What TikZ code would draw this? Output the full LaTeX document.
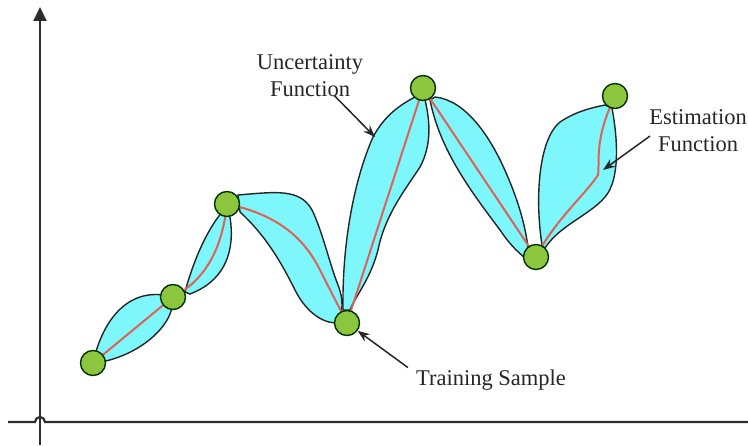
\documentclass[tikz,border=0pt]{standalone}
\usepackage{fontspec}
\setmainfont{Liberation Serif}
\usetikzlibrary{arrows.meta,calc}

\definecolor{bandcyan}{RGB}{125,246,252}
\definecolor{samplegreen}{RGB}{140,198,63}
\definecolor{meanred}{RGB}{222,98,88}
\definecolor{axisgray}{RGB}{45,45,45}

\begin{document}
\begin{tikzpicture}[x=1pt,y=-1pt]
\tikzstyle{band} = [fill=bandcyan,draw=black!85,line width=1.4pt]
\tikzstyle{mean} = [draw=meanred,line width=2pt]
\tikzstyle{sample} = [circle,draw=black!80!green,fill=samplegreen,line width=1.4pt,minimum size=25pt,inner sep=0pt]
\tikzstyle{arrow} = [-{Stealth[length=12pt,width=9pt]},line width=1.5pt,black!85]
\tikzstyle{label} = [font=\rmfamily\fontsize{22.5}{27}\selectfont,text=black!85,align=center,inner sep=2pt]

\useasboundingbox (0,0) rectangle (748,446);

% axes
\draw[axisgray,line width=2.2pt,-{Triangle[width=13pt,length=14pt]}] (40,445) -- (40,7);
\draw[axisgray,line width=2.2pt] (8,422) -- (35,422) arc[start angle=180,end angle=360,radius=5] -- (748,422);

% sample positions
\coordinate (p1) at (93,363);
\coordinate (p2) at (173,297);
\coordinate (p3) at (227,204);
\coordinate (p4) at (347,323);
\coordinate (p5) at (423,88);
\coordinate (p6) at (536,257);
\coordinate (p7) at (615,96);

% uncertainty bands
\draw[band] (p1) .. controls (103,318) and (130,285) .. (p2)
  .. controls (175,330) and (130,360) .. (p1) -- cycle;
\draw[band] (185,292) .. controls (195,255) and (210,225) .. (224,210)
  -- (229,212) .. controls (235,240) and (232,278) .. (190,294) -- cycle;
\draw[band] (238,195) .. controls (275,192) and (300,188) .. (312,210)
  .. controls (322,230) and (330,265) .. (338,285)
  .. controls (344,300) and (342,312) .. (340,318)
  -- (335,323) .. controls (320,322) and (305,310) .. (295,290)
  .. controls (280,260) and (265,235) .. (240,212) -- cycle;
\draw[band] (343,310) .. controls (342,250) and (352,185) .. (373,137)
  .. controls (385,115) and (400,105) .. (415,97)
  -- (425,100) .. controls (430,120) and (432,145) .. (420,167)
  .. controls (405,190) and (385,215) .. (378,250)
  .. controls (370,280) and (356,295) .. (350,310) -- cycle;
\draw[band] (430,100) .. controls (440,150) and (470,190) .. (500,230)
  .. controls (510,245) and (518,252) .. (525,258)
  -- (528,248) .. controls (526,230) and (520,205) .. (507,175)
  .. controls (490,135) and (465,100) .. (435,97) -- cycle;
\draw[band] (542,245) .. controls (535,200) and (538,140) .. (560,122)
  .. controls (575,112) and (590,108) .. (605,105)
  -- (612,108) .. controls (618,140) and (620,180) .. (605,197)
  .. controls (590,215) and (560,225) .. (545,248) -- cycle;

% estimation function
\draw[mean] (p1) -- (p2);
\draw[mean] (p2) .. controls (205,280) and (222,250) .. (p3);
\draw[mean] (p3) .. controls (280,215) and (305,240) .. (320,270)
  .. controls (330,290) and (338,305) .. (p4);
\draw[mean] (p4) -- (p5);
\draw[mean] (p5) -- (p6);
\draw[mean] (p6) .. controls (555,220) and (585,195) .. (598,175)
  .. controls (600,160) and (594,140) .. (p7);

% nodes
\node[sample] (s1) at (p1) {};
\node[sample] (s2) at (p2) {};
\node[sample] (s3) at (p3) {};
\node[sample] (s4) at (p4) {};
\node[sample] (s5) at (p5) {};
\node[sample] (s6) at (p6) {};
\node[sample] (s7) at (p7) {};

\node[label] (unc) at (310,76) {Uncertainty\\Function};
\node[label] (est) at (698,131) {Estimation\\Function};
\node[label] (train) at (491,380) {Training Sample};
\coordinate (uncpt) at (375,137);
\coordinate (estpt) at (603,170);

% arrows
\draw[arrow] ($(unc.south)+(24,-4)$) -- (uncpt);
\draw[arrow] ($(est.west)+(3,5)$) -- (estpt);
\draw[arrow] ($(train.north west)+(-6,0)$) -- (s4);

\end{tikzpicture}
\end{document}
